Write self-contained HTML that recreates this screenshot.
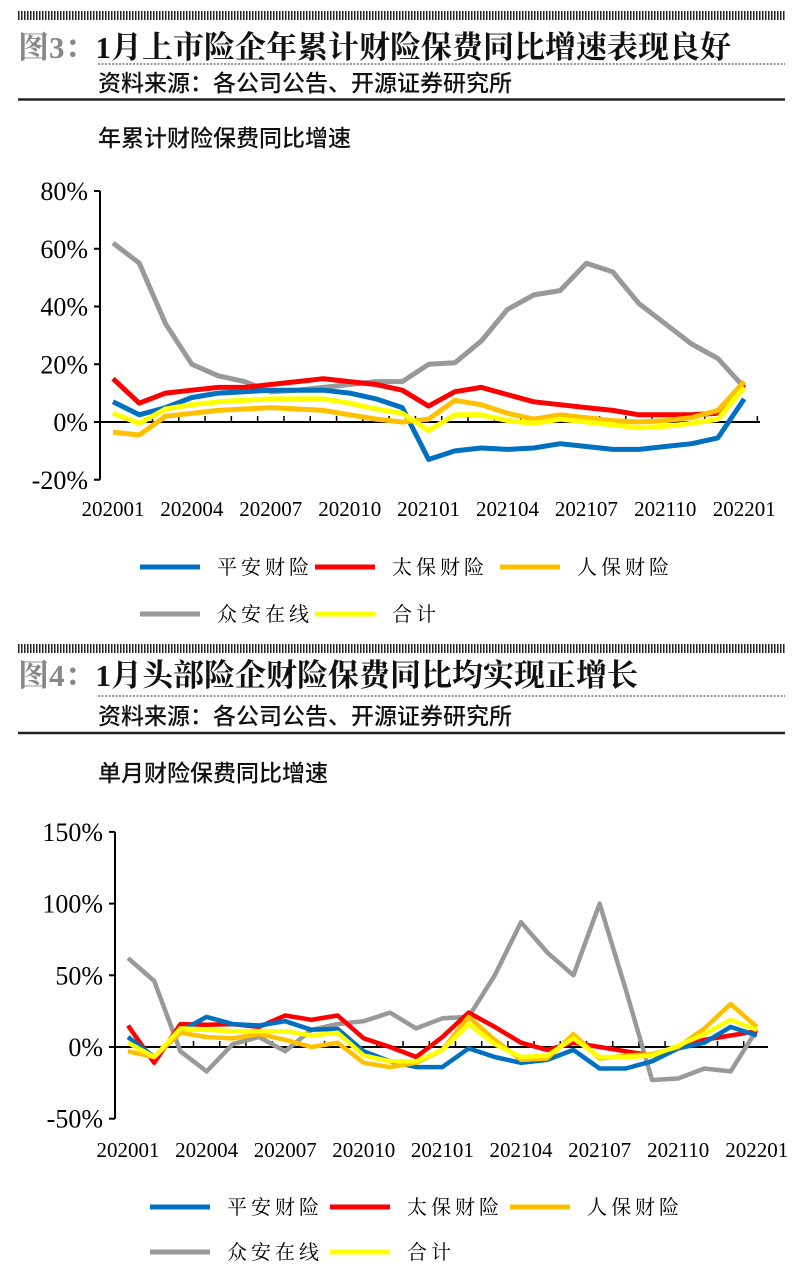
<!DOCTYPE html>
<html><head><meta charset="utf-8"><style>
body{margin:0;background:#fff;width:800px;height:1277px;overflow:hidden}
svg{display:block}
.t{font-family:"Liberation Serif","Noto Serif CJK SC",serif;font-weight:bold;font-size:31px}
.s{font-family:"Liberation Sans","Noto Sans CJK SC",sans-serif;font-size:23px;font-weight:500}
.ax{font-family:"Liberation Serif",serif;font-size:26px}
.xl{font-family:"Liberation Serif",serif;font-size:21px}
.lg{font-family:"Liberation Serif","Noto Serif CJK SC",serif;font-size:20px;letter-spacing:4px}
</style></head><body>
<svg id="c" width="800" height="1277" xmlns="http://www.w3.org/2000/svg">
<defs><pattern id="hp" width="3" height="8" patternUnits="userSpaceOnUse"><rect width="1.5" height="8" fill="#222"/></pattern></defs>
<rect x="18" y="11" width="767" height="9" fill="url(#hp)"/>
<text x="18" y="58" class="t"><tspan fill="#888">图3：</tspan><tspan fill="#111">1月上市险企年累计财险保费同比增速表现良好</tspan></text>
<line x1="98" y1="64" x2="785" y2="64" stroke="#333" stroke-dasharray="2,1.5" stroke-width="1"/>
<text x="98" y="91" class="s" fill="#111">资料来源：各公司公告、开源证券研究所</text>
<line x1="18" y1="99.5" x2="785" y2="99.5" stroke="#222" stroke-width="2.5"/>
<text x="98" y="146" class="s" fill="#111">年累计财险保费同比增速</text>

<rect x="18" y="644" width="767" height="9" fill="url(#hp)"/>
<text x="18" y="686" class="t"><tspan fill="#888">图4：</tspan><tspan fill="#111">1月头部险企财险保费同比均实现正增长</tspan></text>
<line x1="98" y1="696" x2="785" y2="696" stroke="#333" stroke-dasharray="2,1.5" stroke-width="1"/>
<text x="98" y="724" class="s" fill="#111">资料来源：各公司公告、开源证券研究所</text>
<line x1="18" y1="733" x2="785" y2="733" stroke="#222" stroke-width="2.5"/>
<text x="98" y="781" class="s" fill="#111">单月财险保费同比增速</text>
<g id="g"></g>
</svg>
<script>
var NS="http://www.w3.org/2000/svg",g=document.getElementById('g');
function el(n,a,t){var e=document.createElementNS(NS,n);for(var k in a)e.setAttribute(k,a[k]);if(t!=null)e.textContent=t;g.appendChild(e);return e;}
var C=['#0070C0','#FF0000','#FFC000','#999999','#FFFF00'];
var N=['平安财险','太保财险','人保财险','众安在线','合计'];
function chart(o){
 var ys=function(v){return o.y0-(v-0)*o.py;};
 el('line',{x1:o.ax,y1:ys(o.ticks[0]),x2:o.ax,y2:ys(o.ticks[o.ticks.length-1]),stroke:'#000','stroke-width':2});
 o.ticks.forEach(function(t){var y=ys(t);el('line',{x1:o.ax-6,y1:y,x2:o.ax,y2:y,stroke:'#000','stroke-width':2});
  el('text',{x:o.ax-12,y:y+9,'text-anchor':'end','class':'ax'},t+'%');});
 el('line',{x1:o.ax,y1:o.y0,x2:o.xend,y2:o.y0,stroke:'#000','stroke-width':2});
 for(var i=0;i<=25;i++){var x=o.x0-o.st/2+i*o.st;if(x>o.xend+1)break;el('line',{x1:x,y1:o.y0-6,x2:x,y2:o.y0,stroke:'#000','stroke-width':1.5});}
 ['202001','202004','202007','202010','202101','202104','202107','202110','202201'].forEach(function(l,i){
  el('text',{x:o.x0+i*3*o.st,y:o.xly,'text-anchor':'middle','class':'xl'},l);});
 [3,1,0,2,4].forEach(function(s){var d=o.d[s],p='';d.forEach(function(v,i){p+=(i?'L':'M')+(o.x0+i*o.st).toFixed(1)+','+ys(v).toFixed(1);});
  el('path',{d:p,fill:'none',stroke:C[s],'stroke-width':o.sw,'stroke-linejoin':'round'});});
 o.leg.forEach(function(L){el('line',{x1:L[0],y1:L[1],x2:L[0]+60,y2:L[1],stroke:C[L[2]],'stroke-width':5});
  el('text',{x:L[0]+77,y:L[1]+7,'class':'lg'},N[L[2]]);});
}
chart({ax:100,y0:422,py:57.75/20,ticks:[80,60,40,20,0,-20],x0:113,st:26.3,xend:760,xly:516,sw:5,
d:[[7,2.5,5,8.5,10,10.5,11,11,11,10,8,5,-13,-10,-9,-9.5,-9,-7.5,-8.5,-9.5,-9.5,-8.5,-7.5,-5.5,8],
[15,6.5,10,11,12,12,13,14,15,14,13,11,5.5,10.5,12,9.5,7,6,5,4,2.5,2.5,2.5,3,13],
[-3.5,-4.5,2,3,4,4.5,5,4.5,4,2.5,1,0,1,7.5,6,3,1,2.5,1.5,0.5,0,0.5,1.5,4,14],
[62,55,34,20,16,14,10.5,11,12,13,14,14,20,20.5,28,39,44,45.5,55,52,41,34,27,22,12],
[3,-0.5,4.5,6,7,7.5,8,8,8,6.5,4.5,3,-3,2.5,2.5,0.5,-0.5,1,0,-1,-2,-1.5,-0.5,1,12]],
leg:[[140,567,0],[315,567,1],[500,567,2],[140,614,3],[315,614,4]]});
chart({ax:115,y0:1047,py:71.7/50,ticks:[150,100,50,0,-50],x0:128,st:26.2,xend:768,xly:1157,sw:4.5,
d:[[7,-7,11,21,16,15,18,12,12.6,-3,-10,-14,-14,-1,-7,-11,-9,-2,-15,-15,-10,-1,3,14,8],
[15,-11,16,15.5,16,14,22,19,22,6,0,-7,7,24,14,3,-2,3,0,-3,-6,0,5,8,11],
[-3,-7,10,7,6,9,5,0,3,-11,-14,-11,-2,21,5,-9,-8,9,-8,-6,-5,0,13,30,14],
[62,46,-3,-17,2,7,-3,12,16,18,24,13,20,21,50,87,66,50,100,40,-23,-22,-15,-17,12],
[3,-7,13,12,11,11,11,8,10,-6,-10,-10,-2,16,2,-7,-6,6,-7,-7,-6,1,9,19,12]],
leg:[[150,1207,0],[330,1207,1],[510,1207,2],[150,1252,3],[330,1252,4]]});
</script>
</body></html>
